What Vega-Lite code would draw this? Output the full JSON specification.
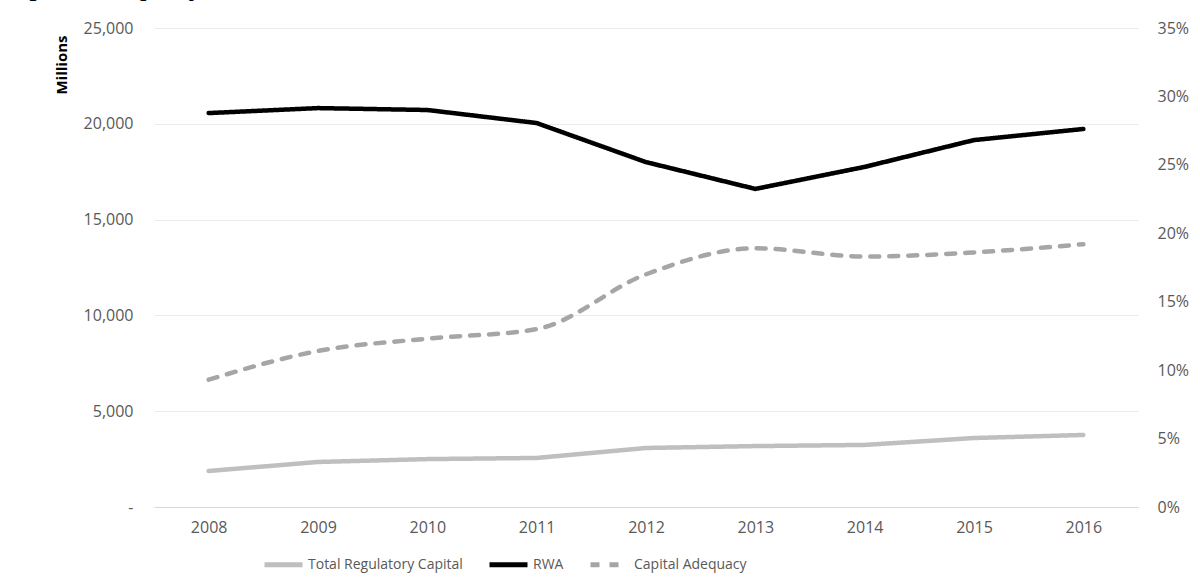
{
  "$schema": "https://vega.github.io/schema/vega-lite/v6.json",
  "width": 984,
  "height": 479,
  "autosize": "none",
  "padding": {"left": 154, "top": 28, "right": 62, "bottom": 74},
  "background": "white",
  "title": {
    "text": "Capital adequacy",
    "anchor": "start",
    "frame": "group",
    "font": "Liberation Serif",
    "fontSize": 30,
    "fontWeight": "normal",
    "color": "#000000",
    "baseline": "alphabetic",
    "offset": 0,
    "dx": -158,
    "dy": 5
  },
  "data": {
    "values": [
      {"year": "2008", "series": "Total Regulatory Capital", "value": 1880},
      {"year": "2009", "series": "Total Regulatory Capital", "value": 2350},
      {"year": "2010", "series": "Total Regulatory Capital", "value": 2500},
      {"year": "2011", "series": "Total Regulatory Capital", "value": 2560},
      {"year": "2012", "series": "Total Regulatory Capital", "value": 3080},
      {"year": "2013", "series": "Total Regulatory Capital", "value": 3180},
      {"year": "2014", "series": "Total Regulatory Capital", "value": 3240},
      {"year": "2015", "series": "Total Regulatory Capital", "value": 3600},
      {"year": "2016", "series": "Total Regulatory Capital", "value": 3760},
      {"year": "2008", "series": "RWA", "value": 20560},
      {"year": "2009", "series": "RWA", "value": 20820},
      {"year": "2010", "series": "RWA", "value": 20720},
      {"year": "2011", "series": "RWA", "value": 20040},
      {"year": "2012", "series": "RWA", "value": 18000},
      {"year": "2013", "series": "RWA", "value": 16600},
      {"year": "2014", "series": "RWA", "value": 17750},
      {"year": "2015", "series": "RWA", "value": 19150},
      {"year": "2016", "series": "RWA", "value": 19730},
      {"year": "2008", "series": "Capital Adequacy", "value": 0.093},
      {"year": "2009", "series": "Capital Adequacy", "value": 0.114},
      {"year": "2010", "series": "Capital Adequacy", "value": 0.123},
      {"year": "2011", "series": "Capital Adequacy", "value": 0.130},
      {"year": "2012", "series": "Capital Adequacy", "value": 0.170},
      {"year": "2013", "series": "Capital Adequacy", "value": 0.189},
      {"year": "2014", "series": "Capital Adequacy", "value": 0.183},
      {"year": "2015", "series": "Capital Adequacy", "value": 0.186},
      {"year": "2016", "series": "Capital Adequacy", "value": 0.192}
    ]
  },
  "encoding": {
    "x": {
      "field": "year",
      "type": "ordinal",
      "title": null,
      "axis": {
        "labelAngle": 0,
        "ticks": false,
        "domain": true,
        "domainColor": "#d9d9d9",
        "domainWidth": 1,
        "labelPadding": 12,
        "labelFontSize": 16,
        "labelColor": "#595959",
        "grid": false
      }
    },
    "color": {
      "field": "series",
      "type": "nominal",
      "scale": {
        "domain": ["Total Regulatory Capital", "RWA", "Capital Adequacy"],
        "range": ["#bfbfbf", "#000000", "#a6a6a6"]
      }
    },
    "strokeDash": {
      "field": "series",
      "type": "nominal",
      "scale": {
        "domain": ["Total Regulatory Capital", "RWA", "Capital Adequacy"],
        "range": [[1, 0], [1, 0], [9, 10]]
      }
    }
  },
  "layer": [
    {
      "transform": [{"filter": "datum.series != 'Capital Adequacy'"}],
      "mark": {"type": "line", "strokeWidth": 4.5, "strokeCap": "round", "strokeJoin": "round"},
      "encoding": {
        "y": {
          "field": "value",
          "type": "quantitative",
          "scale": {"domain": [0, 25000], "nice": false},
          "axis": {
            "title": "Millions",
            "titleFontWeight": "bold",
            "titleFontSize": 15,
            "titleColor": "#000000",
            "titleAngle": -90,
            "titleAlign": "right",
            "titleBaseline": "middle",
            "titleX": -93,
            "titleY": 7,
            "values": [0, 5000, 10000, 15000, 20000, 25000],
            "labelExpr": "datum.value == 0 ? '-' : format(datum.value, ',')",
            "labelFontSize": 16,
            "labelColor": "#595959",
            "labelPadding": 21,
            "ticks": false,
            "domain": false,
            "grid": true,
            "gridColor": "#ebebeb",
            "gridWidth": 1
          }
        }
      }
    },
    {
      "transform": [{"filter": "datum.series == 'Capital Adequacy'"}],
      "mark": {"type": "line", "strokeWidth": 4.5, "strokeCap": "round", "interpolate": "monotone"},
      "encoding": {
        "y": {
          "field": "value",
          "type": "quantitative",
          "scale": {"domain": [0, 0.35], "nice": false},
          "axis": {
            "orient": "right",
            "title": null,
            "values": [0, 0.05, 0.1, 0.15, 0.2, 0.25, 0.3, 0.35],
            "format": ".0%",
            "labelFontSize": 16,
            "labelColor": "#595959",
            "labelPadding": 19,
            "ticks": false,
            "domain": false,
            "grid": false
          }
        }
      }
    }
  ],
  "resolve": {"scale": {"y": "independent"}},
  "config": {
    "font": "Open Sans",
    "view": {"stroke": null},
    "legend": {
      "title": null,
      "orient": "none",
      "legendX": 108,
      "legendY": 515,
      "direction": "horizontal",
      "symbolType": "stroke",
      "symbolSize": 1444,
      "symbolStrokeWidth": 5,
      "labelFontSize": 14,
      "labelFont": "Open Sans",
      "labelColor": "#595959",
      "labelOffset": 3,
      "columnPadding": 16,
      "labelLimit": 300
    }
  }
}
